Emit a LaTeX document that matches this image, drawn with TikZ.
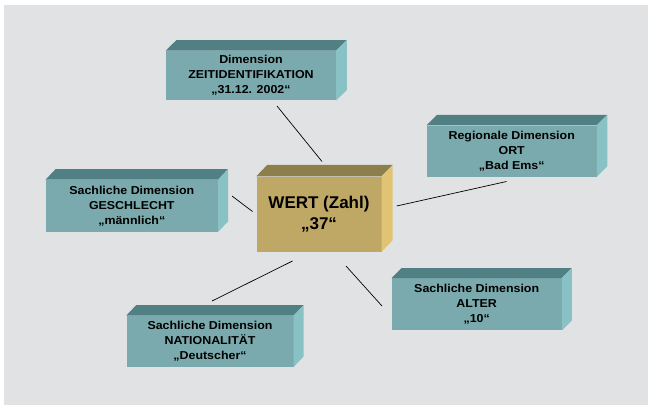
\documentclass[tikz,border=0pt]{standalone}
\usepackage{fontspec}
\setmainfont{Liberation Sans}
\newfontfamily\boxfont[FakeStretch=1.08]{Liberation Sans}
\usetikzlibrary{calc}
\definecolor{bgc}{HTML}{E1E2E4}
\definecolor{tfront}{HTML}{7AAAAD}
\definecolor{ttop}{HTML}{507F84}
\definecolor{tside}{HTML}{88C2C4}
\definecolor{gfront}{HTML}{BFA865}
\definecolor{gtop}{HTML}{8C7F4C}
\definecolor{gside}{HTML}{E0C474}
\tikzset{
  dimbox/.style={fill=tfront, inner sep=0pt, align=center,
    minimum width=170pt, minimum height=51pt,
    font=\boxfont\bfseries\fontsize{11.5}{15}\selectfont},
  valbox/.style={fill=gfront, inner sep=0pt, align=center,
    minimum width=125pt, minimum height=75pt,
    font=\bfseries\fontsize{17}{21}\selectfont},
  link/.style={draw=black, line width=0.7pt}
}
\begin{document}
\begin{tikzpicture}[x=1pt,y=-1pt]
\useasboundingbox (0,0) rectangle (648,405);
\fill[white] (0,0) rectangle (648,405);
\fill[bgc] (4,5) rectangle (648,405);

\node[valbox] (wert) at (319,214) {WERT (Zahl)\\„37“};
\node[dimbox, minimum height=49.5pt] (zeit) at (251,75.5) {Dimension\\ZEITIDENTIFIKATION\\„31.12. 2002“};
\node[dimbox] (ort) at (511.7,151) {Regionale Dimension\\ORT\\„Bad Ems“};
\node[dimbox, minimum width=172pt, minimum height=52pt] (gesch) at (131.8,205.8) {Sachliche Dimension\\GESCHLECHT\\„männlich“};
\node[dimbox, minimum width=167pt] (nat) at (210,341.2) {Sachliche Dimension\\NATIONALITÄT\\„Deutscher“};
\node[dimbox, minimum height=52pt] (alter) at (476.7,304.2) {Sachliche Dimension\\ALTER\\„10“};

\foreach \n/\t/\s/\dx/\dy in {wert/gtop/gside/11/11.5, zeit/ttop/tside/10.7/10.5, ort/ttop/tside/10.5/10.5, gesch/ttop/tside/10/10.5, nat/ttop/tside/10/10.5, alter/ttop/tside/10/10} {
  \fill[\t] (\n.north west) -- ++(\dx,-\dy) -- ($(\n.north east)+(\dx,-\dy)$) -- (\n.north east) -- cycle;
  \fill[\s] (\n.north east) -- ++(\dx,-\dy) -- ($(\n.south east)+(\dx,-\dy)$) -- (\n.south east) -- cycle;
}

\coordinate (z1) at (277,106);   \coordinate (z2) at (322,161.5);
\coordinate (o1) at (506.5,181.5); \coordinate (o2) at (396.7,206);
\coordinate (g1) at (232,196);   \coordinate (g2) at (252.5,211.5);
\coordinate (n1) at (212,301);   \coordinate (n2) at (292.5,261);
\coordinate (a1) at (382,306);   \coordinate (a2) at (346,266);
\draw[link] (z1) -- (z2);
\draw[link] (o1) -- (o2);
\draw[link] (g1) -- (g2);
\draw[link] (n1) -- (n2);
\draw[link] (a1) -- (a2);
\end{tikzpicture}
\end{document}
